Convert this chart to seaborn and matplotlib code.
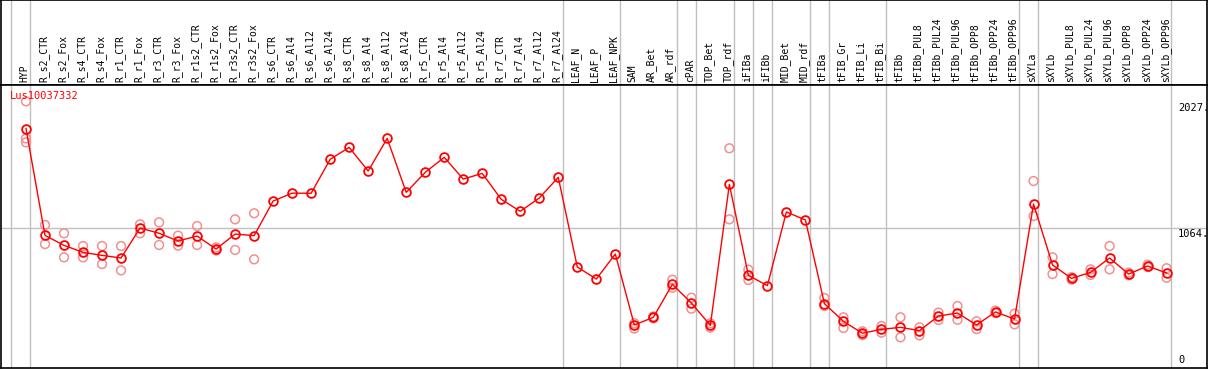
import pandas as pd
import matplotlib
matplotlib.use("Agg")
import matplotlib.pyplot as plt
import matplotlib.transforms as mtransforms
import seaborn as sns

# nomes das amostras
categories = [
    "HYP",
    "R_s2_CTR", "R_s2_Fox", "R_s4_CTR", "R_s4_Fox", "R_r1_CTR", "R_r1_Fox",
    "R_r3_CTR", "R_r3_Fox", "R_r1s2_CTR", "R_r1s2_Fox", "R_r3s2_CTR", "R_r3s2_Fox",
    "R_s6_CTR", "R_s6_Al4", "R_s6_Al12", "R_s6_Al24",
    "R_s8_CTR", "R_s8_Al4", "R_s8_Al12", "R_s8_Al24",
    "R_r5_CTR", "R_r5_Al4", "R_r5_Al12", "R_r5_Al24",
    "R_r7_CTR", "R_r7_Al4", "R_r7_Al12", "R_r7_Al24",
    "LEAF_N", "LEAF_P", "LEAF_NPK",
    "SAM", "AR_Bet", "AR_rdf", "cPAR", "TOP_Bet", "TOP_rdf", "iFIBa", "iFIBb",
    "MID_Bet", "MID_rdf", "tFIBa", "tFIB_Gr", "tFIB_Li", "tFIB_Bi",
    "tFIBb", "tFIBb_PUL8", "tFIBb_PUL24", "tFIBb_PUL96", "tFIBb_OPP8", "tFIBb_OPP24", "tFIBb_OPP96",
    "sXYLa",
    "sXYLb", "sXYLb_PUL8", "sXYLb_PUL24", "sXYLb_PUL96", "sXYLb_OPP8", "sXYLb_OPP24", "sXYLb_OPP96",
]

# media por amostra
means = [
    1820,
    1008, 932, 879, 856, 836, 1064, 1024, 965, 1003, 904, 1018, 1006,
    1269, 1329, 1328, 1586, 1677, 1497, 1745, 1335,
    1487, 1601, 1436, 1479, 1282, 1191, 1292, 1449,
    768, 676, 866,
    327, 385, 636, 494, 324, 1396, 704, 626,
    1186, 1125, 489, 355, 264, 294,
    309, 284, 395, 418, 327, 426, 372,
    1246,
    783, 681, 727, 836, 714, 775, 722,
]

# replicas visiveis
replicates = [
    [2027, 1745, 1715],
    [1087, 942], [1024, 841], [927, 841], [927, 790], [927, 742], [1092, 1024],
    [1107, 935], [1006, 930], [1079, 935], [917, 893], [1130, 897], [1176, 826],
    [], [], [], [], [], [], [], [],
    [], [], [], [], [], [], [], [],
    [], [], [],
    [300, 340], [392, 378], [671, 610], [534, 451], [340, 307], [1670, 1130], [747, 669], [],
    [], [], [532, 471], [385, 304], [279, 250], [319, 269],
    [385, 233], [309, 248], [421, 365], [471, 367], [355, 296], [436, 418], [413, 332],
    [1421, 1155],
    [841, 714], [690, 672], [750, 707], [927, 750], [725, 705], [785, 768], [758, 686],
]

# ultima amostra de cada grupo (linhas verticais)
group_ends = [-1, 0, 28, 31, 34, 35, 37, 38, 39, 41, 42, 45, 52, 53, 60]

y_ticks = [0, 1064, 2027]
y_tick_labels = ["0", "1064.", "2027."]
gene = "Lus10037332"

df = pd.DataFrame({"pos": range(len(categories)), "sample": categories, "mean": means})
reps = pd.DataFrame(
    [(i, v) for i, vals in enumerate(replicates) for v in vals], columns=["pos", "value"]
)

plt.rcParams["font.family"] = ["DejaVu Sans Mono"]
plt.rcParams["font.size"] = 7

fig = plt.figure(figsize=(12.09, 3.70), dpi=100)
W, H = 1209, 370
xlim = ((1 - 26) / 19.01, (1207 - 26) / 19.01)

ax_h = fig.add_axes([1 / W, (H - 85) / H, 1206 / W, 85 / H])
ax = fig.add_axes([1 / W, (H - 368) / H, 1206 / W, 283 / H])

for a in (ax_h, ax):
    a.set_xlim(*xlim)
    a.set_xticks([])
    a.set_yticks([])
    for s in a.spines.values():
        s.set_color("black")
        s.set_linewidth(1.2)
    for g in group_ends:
        a.axvline(g + 0.23, color="#c0c0c0", linewidth=1, zorder=0)

ax_h.set_ylim(0, 1)
for i, name in enumerate(categories):
    ax_h.text(i - 0.08, 0.03, name, rotation=90, ha="center", va="bottom", fontsize=7)

ax.set_ylim(0, 2151)
ax.axhline(y_ticks[1], color="#c0c0c0", linewidth=1, zorder=0)

sns.scatterplot(data=reps, x="pos", y="value", ax=ax, marker="o", s=40,
                facecolor="none", edgecolor="#f09090", linewidth=1.1, zorder=2)
sns.lineplot(data=df, x="pos", y="mean", ax=ax, color="red", linewidth=1,
             marker="o", markersize=6.3, markerfacecolor="none",
             markeredgecolor="red", markeredgewidth=1.3, zorder=3)
ax.set_xlabel("")
ax.set_ylabel("")
ax.set_xlim(*xlim)
ax.set_ylim(0, 2151)

trans = mtransforms.blended_transform_factory(ax.transAxes, ax.transData)
for v, lab in zip(y_ticks, y_tick_labels):
    va = "bottom" if v == 0 else "top"
    ax.text((1178 - 1) / 1206, v + (25 if v == 0 else -10), lab, transform=trans,
            ha="left", va=va, fontsize=7.5)

ax.text(9 / 1206, 0.96, gene, transform=ax.transAxes, color="red",
        ha="left", va="center", fontsize=7.5)

fig.savefig("out.png", dpi=100)
